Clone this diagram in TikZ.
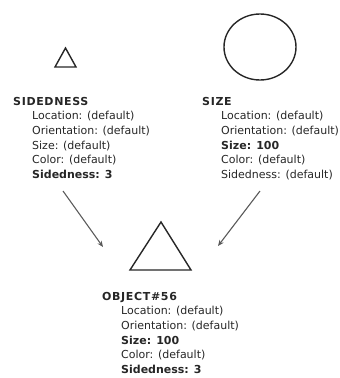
\documentclass[tikz,border=0pt]{standalone}
\usepackage{fontspec}
\setmainfont{DejaVu Sans}
\usetikzlibrary{arrows.meta}

\newcommand*{\blockfont}{\fontsize{11}{14.6}\selectfont}
\newcommand*{\ind}{\hspace*{19pt}}
\newcommand*{\head}[1]{{\addfontfeatures{LetterSpace=6}\bfseries #1}}

\begin{document}
\begin{tikzpicture}
[
	x=1pt,
	y=-1pt,
	block/.style={anchor=north west,align=left,inner sep=0pt,font=\blockfont,text=black!85},
	shapeline/.style={draw=black!85,line width=1.4pt,line join=miter},
	conn/.style={draw=black!65,line width=1.1pt,-{Stealth[length=6pt,width=5pt]}}
]

	\useasboundingbox (0,0) rectangle (340,378);

	% the two source objects
	\draw[shapeline] (65.5,48) -- (76,67) -- (55,67) -- cycle;
	\draw[shapeline] (260,47) ellipse [x radius=36,y radius=33];

	\node[block] (side) at (13,97) {\head{SIDEDNESS}\\
	  \ind Location: (default)\\
	  \ind Orientation: (default)\\
	  \ind Size: (default)\\
	  \ind Color: (default)\\
	  \ind\textbf{Sidedness: 3}};

	\node[block] (size) at (202,97) {\head{SIZE}\\
	  \ind Location: (default)\\
	  \ind Orientation: (default)\\
	  \ind\textbf{Size: 100}\\
	  \ind Color: (default)\\
	  \ind Sidedness: (default)};

	% resulting object
	\draw[shapeline] (161,222) -- (191,270) -- (130,270) -- cycle;

	\node[block] (obj) at (102,292) {\head{OBJECT\#56}\\
	  \ind Location: (default)\\
	  \ind Orientation: (default)\\
	  \ind\textbf{Size: 100}\\
	  \ind Color: (default)\\
	  \ind\textbf{Sidedness: 3}};

	% arrows
	\coordinate (sidetail) at (63,191);
	\coordinate (sizetail) at (260,191);
	\coordinate (objleft) at (103,247);
	\coordinate (objright) at (218,246);
	\draw[conn] (sidetail) -- (objleft);
	\draw[conn] (sizetail) -- (objright);

\end{tikzpicture}
\end{document}
